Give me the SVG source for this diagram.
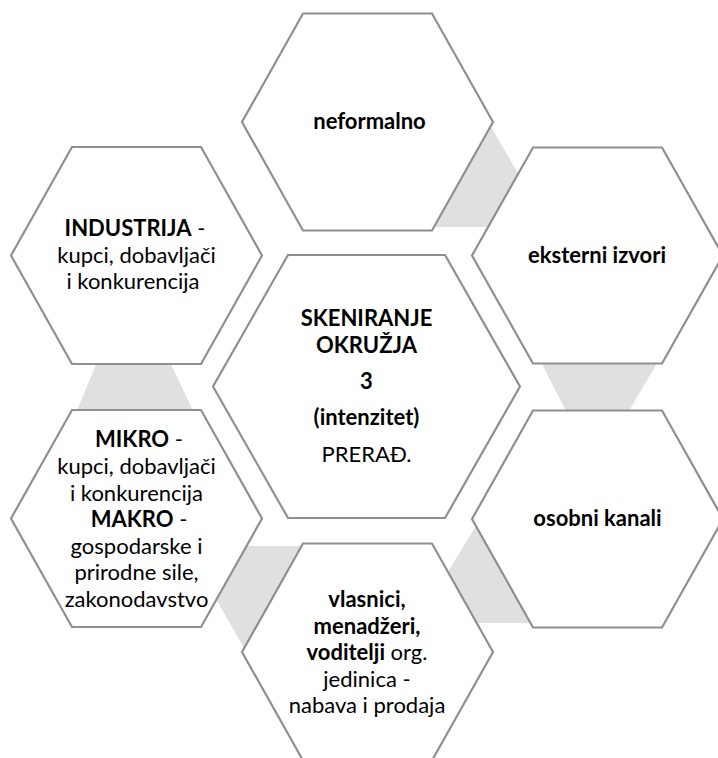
<svg xmlns="http://www.w3.org/2000/svg" width="718" height="758" viewBox="0 0 718 758">
<style>
.hex{fill:#ffffff;stroke:#8f8f8f;stroke-width:2.2;stroke-linejoin:miter}
.con{fill:#e0e0e0;stroke:none}
text{font-family:Lato,"Liberation Sans",sans-serif;font-size:22px;fill:#000000;text-anchor:middle}
.b{font-weight:bold}
</style>
<rect width="718" height="758" fill="#ffffff"/>
<g id="connectors">
<polygon class="con" points="485,116 525,186 500,227 430,227"/>
<polygon class="con" points="540,360 659,360 627,414 567.5,414"/>
<polygon class="con" points="480,519 440,585 460,623 540,623"/>
<polygon class="con" points="240,546 310,546 248,655 211,590"/>
<polygon class="con" points="98,360 169,360 194.5,414 75.5,414"/>
</g>
<g id="node-top">
<polygon class="hex" points="303,13.5 432,13.5 493,122 432,230.5 303,230.5 242,122"/>
<text x="369.5" y="129" class="b">neformalno</text>
</g>
<g id="node-upper-right">
<polygon class="hex" points="533,147.5 662,147.5 723,255.5 662,363.5 533,363.5 472,255.5"/>
<text x="597" y="263" class="b">eksterni izvori</text>
</g>
<g id="node-lower-right">
<polygon class="hex" points="533,410.5 662,410.5 723,519 662,627.5 533,627.5 472,519"/>
<text x="597.5" y="525.5" class="b">osobni kanali</text>
</g>
<g id="node-bottom">
<polygon class="hex" points="303,543.5 432,543.5 493,652 432,760.5 303,760.5 242,652"/>
<text x="367" y="607.3" class="b">vlasnici,</text>
<text x="367" y="633.5" class="b">menadžeri,</text>
<text x="367" y="660"><tspan class="b">voditelji</tspan> org.</text>
<text x="367" y="686.7">jedinica -</text>
<text x="367" y="712.7">nabava i prodaja</text>
</g>
<g id="node-lower-left">
<polygon class="hex" points="72,410 201,410 262,518.5 201,627 72,627 11,518.5"/>
<text x="139" y="447.3"><tspan class="b">MIKRO</tspan> -</text>
<text x="136.5" y="474">kupci, dobavljači</text>
<text x="136.5" y="500.5">i konkurencija</text>
<text x="139" y="527"><tspan class="b">MAKRO</tspan> -</text>
<text x="136.5" y="553.5">gospodarske i</text>
<text x="136.5" y="580">prirodne sile,</text>
<text x="136.5" y="606.7">zakonodavstvo</text>
</g>
<g id="node-upper-left">
<polygon class="hex" points="72,147 201,147 262,255.5 201,364 72,364 11,255.5"/>
<text x="135" y="236"><tspan class="b">INDUSTRIJA</tspan> -</text>
<text x="136.5" y="262.5">kupci, dobavljači</text>
<text x="133" y="289">i konkurencija</text>
</g>
<g id="node-center">
<polygon class="hex" points="288,255 445,255 520,386.5 445,518 288,518 213,386.5"/>
<text x="366.5" y="326" class="b">SKENIRANJE</text>
<text x="366.5" y="352.7" class="b">OKRUŽJA</text>
<text x="366.5" y="388.5" class="b">3</text>
<text x="366.5" y="425" class="b">(intenzitet)</text>
<text x="366.5" y="461.7">PRERAĐ.</text>
</g>
</svg>
